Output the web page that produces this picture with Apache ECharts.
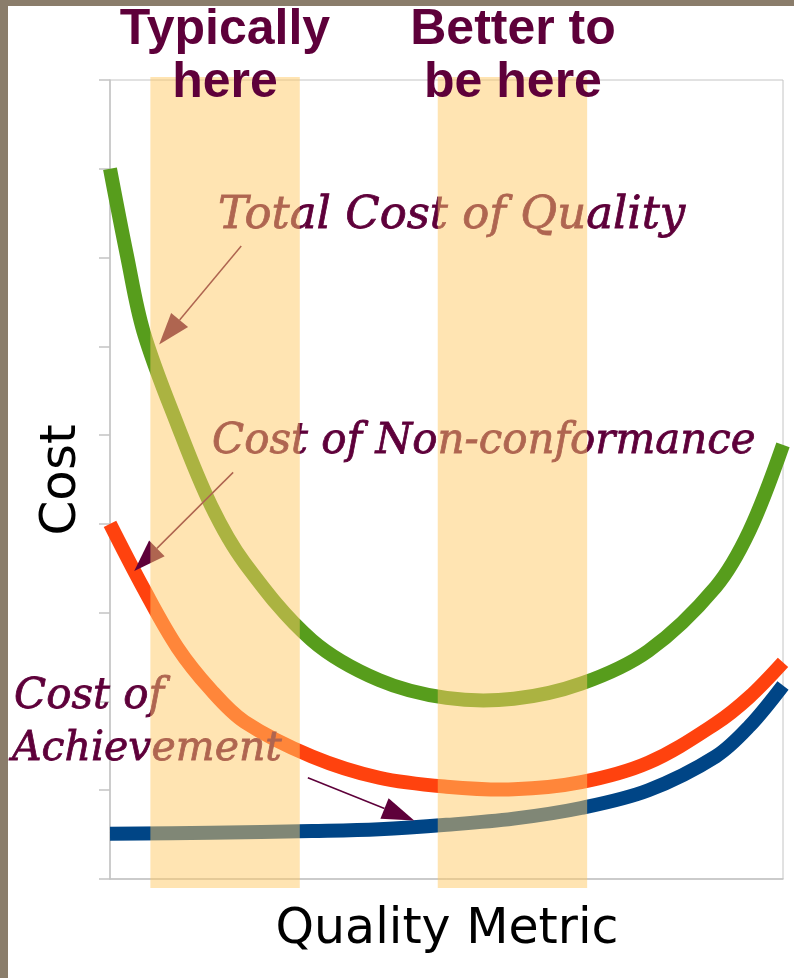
<!DOCTYPE html>
<html>
<head>
<meta charset="utf-8">
<script src="https://cdn.jsdelivr.net/npm/echarts@6/dist/echarts.min.js"></script>
<style>
  html, body { margin: 0; padding: 0; background: #fff; }
  #chart { width: 794px; height: 978px; }
</style>
</head>
<body>
<div id="chart"></div>
<script>
// curves: x = quality metric (0..10), y = cost (0..9)
var xTotal = [0, 0.25, 0.5, 1, 1.5, 2, 3, 4, 5, 6, 7, 8, 9, 9.5, 10];
var yTotal = [8.0, 7.03, 6.16, 5.12, 4.21, 3.56, 2.69, 2.24, 2.04, 2.03, 2.2, 2.57, 3.29, 3.92, 4.89];

var xNonConf = [0, 0.5, 1, 1.5, 2, 3, 4, 5, 6, 7, 8, 9, 9.5, 10];
var yNonConf = [4.0, 3.27, 2.61, 2.13, 1.77, 1.38, 1.14, 1.04, 1.01, 1.09, 1.31, 1.75, 2.05, 2.44];

var xAchieve = [0, 1.5, 3, 4, 5, 6, 7, 8, 9, 9.5, 10];
var yAchieve = [0.51, 0.52, 0.54, 0.56, 0.61, 0.68, 0.8, 1.0, 1.38, 1.72, 2.18];

// shaded zones on the quality axis
var bandRanges = [[0.6, 2.82], [4.87, 7.09]];

// annotation arrows: [fromX, fromY, toX, toY]
var arrows = [
    [1.95, 7.13, 0.73, 6.02],
    [1.83, 4.58, 0.36, 3.47],
    [2.94, 1.14, 4.52, 0.66]
];

var purple = '#5e003a';

function pairs(xs, ys) {
    return xs.map(function (x, i) { return [x, ys[i]]; });
}

// one smooth stroke through all points of a curve (drawn once, on the first item)
function curve(name, xs, ys, color) {
    return {
        name: name,
        type: 'custom',
        data: pairs(xs, ys),
        encode: { x: 0, y: 1 },
        silent: true,
        z: 2,
        renderItem: function (params, api) {
            if (params.dataIndex !== 0) return null;
            var pts = xs.map(function (x, i) { return api.coord([x, ys[i]]); });
            return {
                type: 'polyline',
                shape: { points: pts, smooth: 0.35 },
                style: { stroke: color, lineWidth: 14, fill: null, lineCap: 'butt', lineJoin: 'round' }
            };
        }
    };
}

function label(text, x, y, size) {
    return {
        type: 'text',
        z: 3,
        silent: true,
        style: {
            text: text, x: x, y: y,
            font: 'italic ' + size + 'px "DejaVu Serif"',
            fill: purple,
            stroke: purple, lineWidth: 0.8,
            align: 'left', textAlign: 'left',
            verticalAlign: 'middle', textVerticalAlign: 'middle'
        }
    };
}

var chart = echarts.init(document.getElementById('chart'));

var option = {
    animation: false,
    backgroundColor: '#fff',
    grid: {
        left: 110, right: 11, top: 80, bottom: 99,
        show: true, borderColor: '#c4c4c4', borderWidth: 1
    },
    xAxis: {
        type: 'value', min: 0, max: 10,
        axisLine: { show: true, lineStyle: { color: '#c4c4c4', width: 1.5 } },
        axisTick: { show: false },
        axisLabel: { show: false },
        splitLine: { show: false }
    },
    yAxis: {
        type: 'value', min: 0, max: 9, interval: 1,
        axisLine: { show: true, lineStyle: { color: '#c4c4c4', width: 1.5 } },
        axisTick: { show: true, length: 11, lineStyle: { color: '#c4c4c4', width: 1.5 } },
        axisLabel: { show: false },
        splitLine: { show: false }
    },
    series: [
        curve('Cost of Achievement', xAchieve, yAchieve, '#004586'),
        curve('Cost of Non-conformance', xNonConf, yNonConf, '#ff420e'),
        curve('Total Cost of Quality', xTotal, yTotal, '#579d1c'),
        {
            type: 'custom',
            name: 'arrows',
            z: 4,
            silent: true,
            data: arrows,
            encode: { x: [0, 2], y: [1, 3] },
            renderItem: function (params, api) {
                var a = api.coord([api.value(0), api.value(1)]);
                var b = api.coord([api.value(2), api.value(3)]);
                var dx = b[0] - a[0], dy = b[1] - a[1];
                var len = Math.sqrt(dx * dx + dy * dy);
                var ux = dx / len, uy = dy / len;
                var headLen = 32, headHalf = 11;
                var bx = b[0] - ux * headLen, by = b[1] - uy * headLen;
                return {
                    type: 'group',
                    children: [
                        {
                            type: 'line',
                            shape: { x1: a[0], y1: a[1], x2: bx, y2: by },
                            style: { stroke: purple, lineWidth: 1.5 }
                        },
                        {
                            type: 'polygon',
                            shape: {
                                points: [
                                    [b[0], b[1]],
                                    [bx - uy * headHalf, by + ux * headHalf],
                                    [bx + uy * headHalf, by - ux * headHalf]
                                ]
                            },
                            style: { fill: purple }
                        }
                    ]
                };
            }
        },
        {
            type: 'custom',
            name: 'zones',
            z: 10,
            silent: true,
            data: bandRanges,
            encode: { x: [0, 1] },
            renderItem: function (params, api) {
                var p0 = api.coord([api.value(0), 9]);
                var p1 = api.coord([api.value(1), 0]);
                return {
                    type: 'rect',
                    shape: { x: p0[0], y: p0[1] - 3, width: p1[0] - p0[0], height: p1[1] - p0[1] + 12 },
                    style: { fill: 'rgba(255, 201, 101, 0.5)' }
                };
            }
        }
    ],
    graphic: [
        label('Total Cost of Quality', 218, 216, 45),
        label('Cost of Non-conformance', 212, 442, 42),
        label('Cost of', 14, 697, 42),
        label('Achievement', 12, 749, 41),
        {
            type: 'text', z: 100, silent: true,
            style: {
                text: 'Typically\nhere', x: 225, y: 57,
                font: 'bold 50px "Liberation Sans"', lineHeight: 53, fill: purple,
                align: 'center', textAlign: 'center', verticalAlign: 'middle', textVerticalAlign: 'middle'
            }
        },
        {
            type: 'text', z: 100, silent: true,
            style: {
                text: 'Better to\nbe here', x: 513, y: 57,
                font: 'bold 50px "Liberation Sans"', lineHeight: 53, fill: purple,
                align: 'center', textAlign: 'center', verticalAlign: 'middle', textVerticalAlign: 'middle'
            }
        },
        {
            type: 'text', z: 100, silent: true,
            x: 62, y: 480, rotation: Math.PI / 2,
            style: {
                text: 'Cost', x: 0, y: 0,
                font: '50px "DejaVu Sans"', fill: '#000',
                align: 'center', textAlign: 'center', verticalAlign: 'middle', textVerticalAlign: 'middle'
            }
        },
        {
            type: 'text', z: 100, silent: true,
            style: {
                text: 'Quality Metric', x: 447, y: 930,
                font: '49px "DejaVu Sans"', fill: '#000',
                align: 'center', textAlign: 'center', verticalAlign: 'middle', textVerticalAlign: 'middle'
            }
        },
        { type: 'rect', z: 100, silent: true, shape: { x: 0, y: 0, width: 8, height: 978 }, style: { fill: '#8a7d6b' } },
        { type: 'rect', z: 100, silent: true, shape: { x: 0, y: 0, width: 794, height: 6 }, style: { fill: '#8a7d6b' } }
    ]
};

chart.setOption(option);
</script>
</body>
</html>
